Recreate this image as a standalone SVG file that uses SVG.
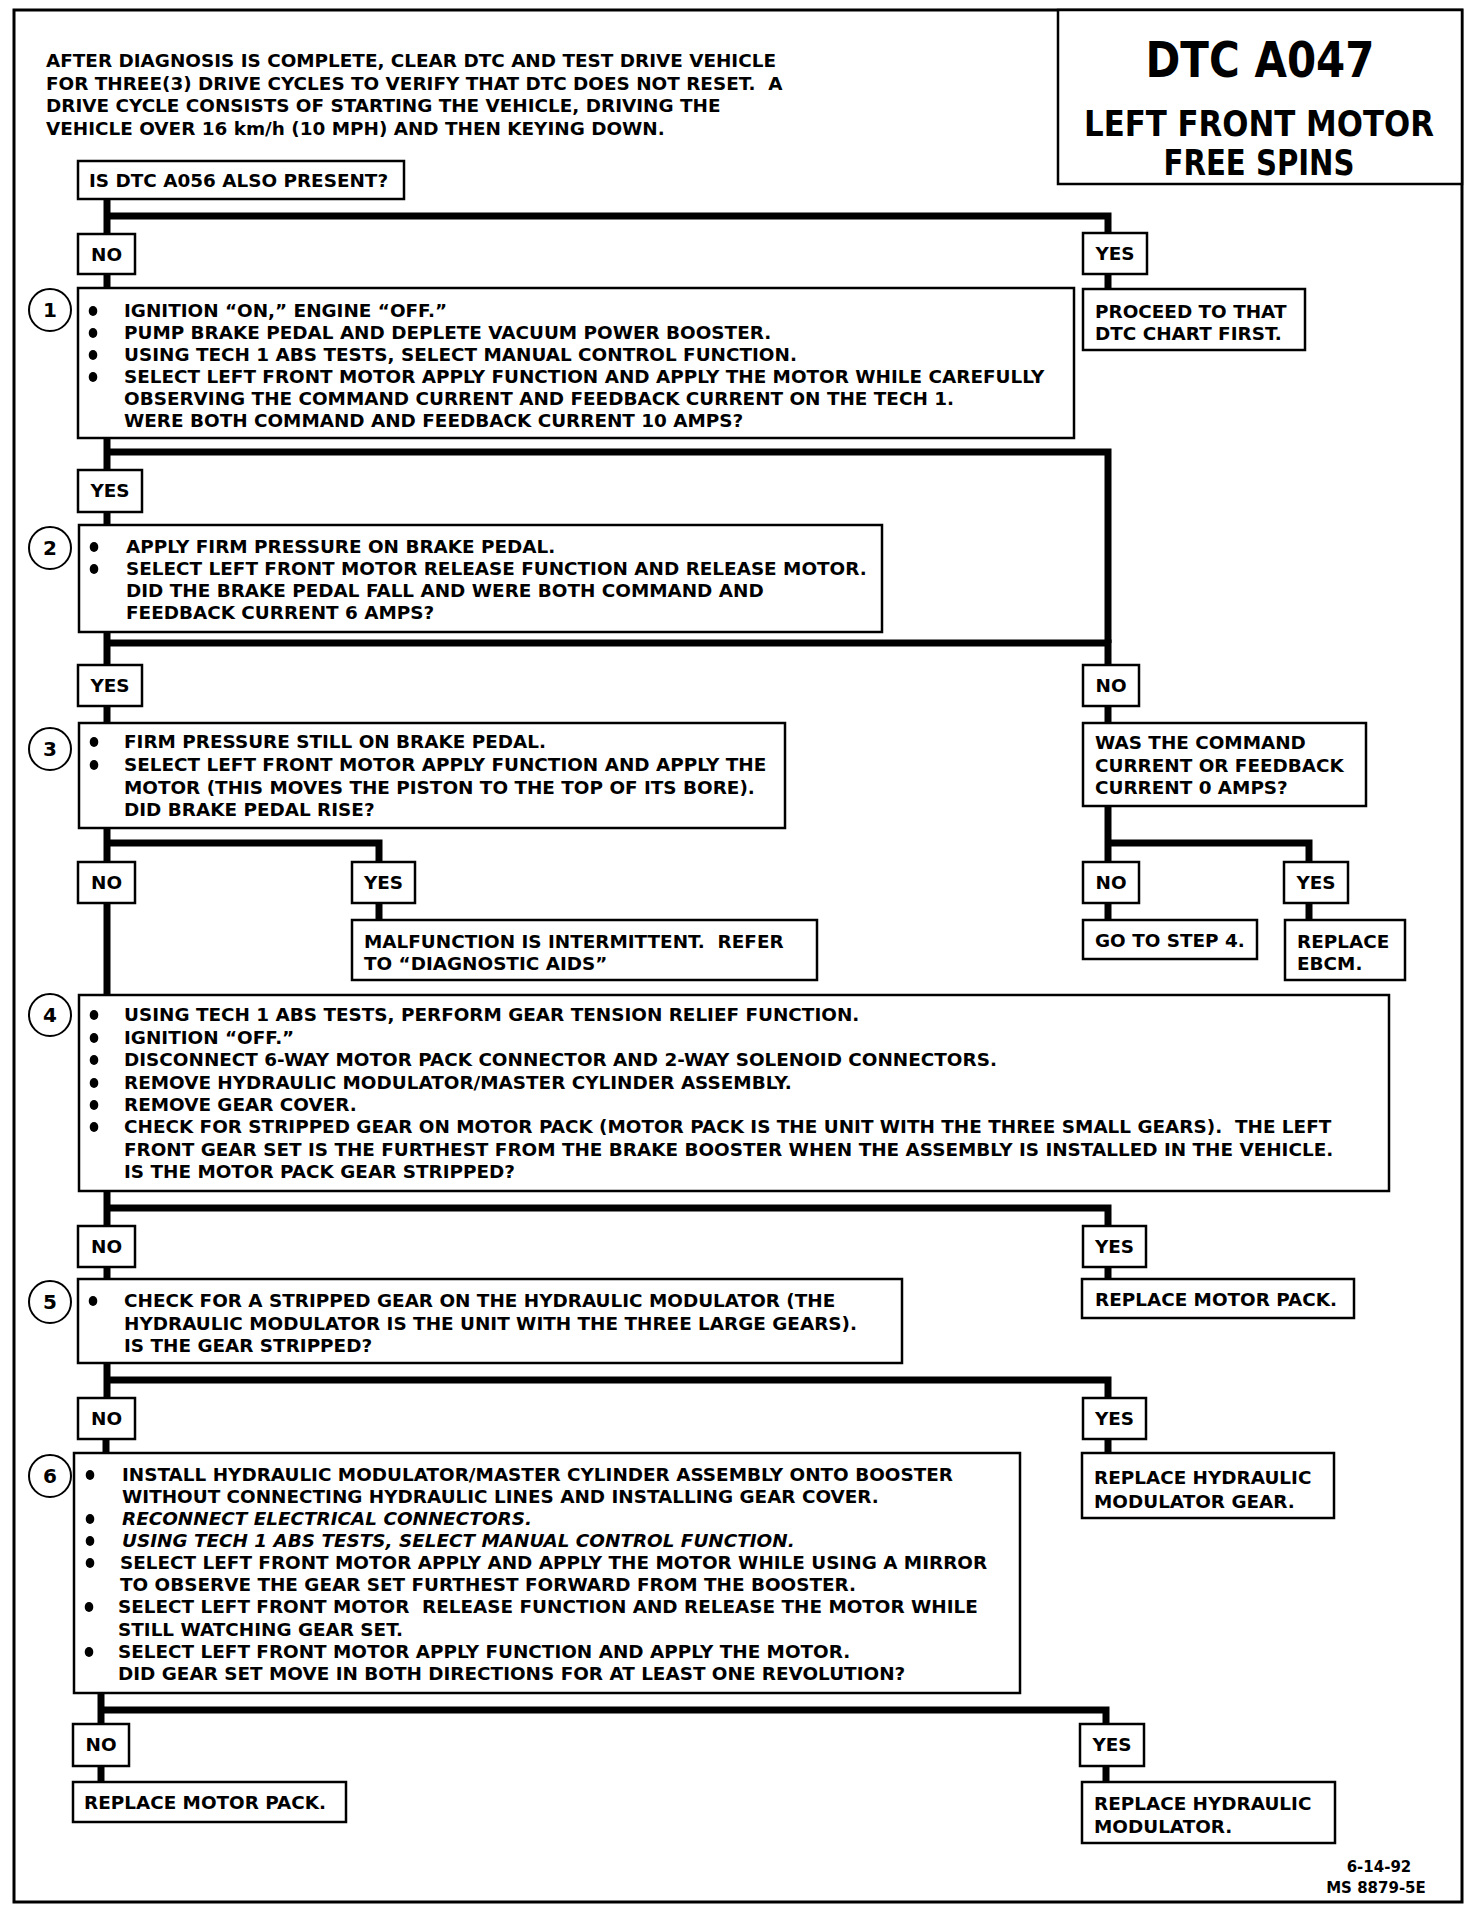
<svg xmlns="http://www.w3.org/2000/svg" width="1472" height="1910" viewBox="0 0 1472 1910">
<style>
.bg{fill:#fff}
.frame{fill:none;stroke:#000;stroke-width:3}
.b{fill:#fff;stroke:#000;stroke-width:2.5}
.cir{fill:#fff;stroke:#000;stroke-width:2}
.t{font-family:"DejaVu Sans","Liberation Sans",sans-serif;font-weight:bold;font-size:18.4px;fill:#000;white-space:pre}
.it{font-style:italic}
.m{text-anchor:middle}
.ttl{font-family:"DejaVu Sans","Liberation Sans",sans-serif;font-weight:bold;fill:#000;text-anchor:middle}
.ttc{font-family:"DejaVu Sans Condensed","Liberation Sans",sans-serif;font-weight:bold;fill:#000;text-anchor:middle}
.n{font-family:"DejaVu Sans",sans-serif;font-weight:bold;font-size:20px;text-anchor:middle;fill:#000}
.c{fill:none;stroke:#000;stroke-width:7;stroke-linejoin:miter;stroke-linecap:butt}
.dot{fill:#000}
.ft{font-family:"DejaVu Sans",sans-serif;font-weight:bold;font-size:15px;text-anchor:middle;fill:#000}
</style>
<rect class="bg" x="0" y="0" width="1472" height="1910"/>
<rect class="frame" x="14" y="10" width="1448" height="1892"/>

<g id="title">
<rect class="b" x="1058" y="10" width="404" height="174"/>
<text class="ttl" x="1260" y="77" font-size="49" textLength="229" lengthAdjust="spacingAndGlyphs">DTC A047</text>
<text class="ttc" x="1259" y="136" font-size="36" textLength="350" lengthAdjust="spacingAndGlyphs">LEFT FRONT MOTOR</text>
<text class="ttc" x="1259" y="175" font-size="36" textLength="191" lengthAdjust="spacingAndGlyphs">FREE SPINS</text>
</g>

<g id="intro">
<text class="t" x="46" y="67">AFTER DIAGNOSIS IS COMPLETE, CLEAR DTC AND TEST DRIVE VEHICLE</text>
<text class="t" x="46" y="89.5">FOR THREE(3) DRIVE CYCLES TO VERIFY THAT DTC DOES NOT RESET.  A</text>
<text class="t" x="46" y="112">DRIVE CYCLE CONSISTS OF STARTING THE VEHICLE, DRIVING THE</text>
<text class="t" x="46" y="134.5">VEHICLE OVER 16 km/h (10 MPH) AND THEN KEYING DOWN.</text>
</g>

<g id="connectors">
<path class="c" d="M107 199 V234"/>
<path class="c" d="M107 216 H1108 V233"/>
<path class="c" d="M107 274 V288"/>
<path class="c" d="M1108 274 V289"/>
<path class="c" d="M107 438 V470"/>
<path class="c" d="M107 452 H1108 V643"/>
<path class="c" d="M107 512 V525"/>
<path class="c" d="M107 632 V665"/>
<path class="c" d="M107 643 H1108 V665"/>
<path class="c" d="M107 706 V723"/>
<path class="c" d="M1108 706 V723"/>
<path class="c" d="M107 828 V862"/>
<path class="c" d="M107 843 H379 V862"/>
<path class="c" d="M379 903 V920"/>
<path class="c" d="M107 903 V995"/>
<path class="c" d="M1108 806 V862"/>
<path class="c" d="M1108 843 H1309 V862"/>
<path class="c" d="M1108 903 V920"/>
<path class="c" d="M1309 903 V920"/>
<path class="c" d="M107 1191 V1226"/>
<path class="c" d="M107 1208 H1108 V1226"/>
<path class="c" d="M107 1267 V1279"/>
<path class="c" d="M1108 1267 V1279"/>
<path class="c" d="M107 1363 V1398"/>
<path class="c" d="M107 1380 H1108 V1398"/>
<path class="c" d="M106 1439 V1453"/>
<path class="c" d="M1108 1439 V1453"/>
<path class="c" d="M101 1693 V1724"/>
<path class="c" d="M101 1710 H1106 V1724"/>
<path class="c" d="M101 1766 V1782"/>
<path class="c" d="M1106 1766 V1782"/>
</g>

<g id="q0">
<rect class="b" x="78" y="161" width="326" height="38"/>
<text class="t" x="89" y="187">IS DTC A056 ALSO PRESENT?</text>
</g>
<g id="no1"><rect class="b" x="78" y="234" width="57" height="40"/><text class="t m" x="106.5" y="261">NO</text></g>
<g id="yes1"><rect class="b" x="1083" y="233" width="64" height="41"/><text class="t m" x="1115" y="260">YES</text></g>
<g id="proceed">
<rect class="b" x="1083" y="289" width="222" height="61"/>
<text class="t" x="1095" y="318">PROCEED TO THAT</text>
<text class="t" x="1095" y="340">DTC CHART FIRST.</text>
</g>

<g id="step1">
<circle class="cir" cx="50" cy="310" r="21"/><text class="n" x="50" y="317">1</text>
<rect class="b" x="78" y="288" width="996" height="150"/>
<ellipse class="dot" cx="93" cy="311" rx="4.3" ry="5"/>
<ellipse class="dot" cx="93" cy="333" rx="4.3" ry="5"/>
<ellipse class="dot" cx="93" cy="355" rx="4.3" ry="5"/>
<ellipse class="dot" cx="93" cy="377" rx="4.3" ry="5"/>
<text class="t" x="124" y="317">IGNITION “ON,” ENGINE “OFF.”</text>
<text class="t" x="124" y="339">PUMP BRAKE PEDAL AND DEPLETE VACUUM POWER BOOSTER.</text>
<text class="t" x="124" y="361">USING TECH 1 ABS TESTS, SELECT MANUAL CONTROL FUNCTION.</text>
<text class="t" x="124" y="383">SELECT LEFT FRONT MOTOR APPLY FUNCTION AND APPLY THE MOTOR WHILE CAREFULLY</text>
<text class="t" x="124" y="405">OBSERVING THE COMMAND CURRENT AND FEEDBACK CURRENT ON THE TECH 1.</text>
<text class="t" x="124" y="427">WERE BOTH COMMAND AND FEEDBACK CURRENT 10 AMPS?</text>
</g>

<g id="yes2"><rect class="b" x="78" y="470" width="64" height="42"/><text class="t m" x="110" y="497">YES</text></g>

<g id="step2">
<circle class="cir" cx="50" cy="548" r="21"/><text class="n" x="50" y="555">2</text>
<rect class="b" x="79" y="525" width="803" height="107"/>
<ellipse class="dot" cx="94" cy="547" rx="4.3" ry="5"/>
<ellipse class="dot" cx="94" cy="569" rx="4.3" ry="5"/>
<text class="t" x="126" y="553">APPLY FIRM PRESSURE ON BRAKE PEDAL.</text>
<text class="t" x="126" y="575">SELECT LEFT FRONT MOTOR RELEASE FUNCTION AND RELEASE MOTOR.</text>
<text class="t" x="126" y="597">DID THE BRAKE PEDAL FALL AND WERE BOTH COMMAND AND</text>
<text class="t" x="126" y="619">FEEDBACK CURRENT 6 AMPS?</text>
</g>

<g id="yes3"><rect class="b" x="78" y="665" width="64" height="41"/><text class="t m" x="110" y="692">YES</text></g>
<g id="no3"><rect class="b" x="1083" y="665" width="56" height="41"/><text class="t m" x="1111" y="692">NO</text></g>

<g id="step3">
<circle class="cir" cx="50" cy="749" r="21"/><text class="n" x="50" y="756">3</text>
<rect class="b" x="79" y="723" width="706" height="105"/>
<ellipse class="dot" cx="94" cy="742" rx="4.3" ry="5"/>
<ellipse class="dot" cx="94" cy="765" rx="4.3" ry="5"/>
<text class="t" x="124" y="748">FIRM PRESSURE STILL ON BRAKE PEDAL.</text>
<text class="t" x="124" y="771">SELECT LEFT FRONT MOTOR APPLY FUNCTION AND APPLY THE</text>
<text class="t" x="124" y="794">MOTOR (THIS MOVES THE PISTON TO THE TOP OF ITS BORE).</text>
<text class="t" x="124" y="816">DID BRAKE PEDAL RISE?</text>
</g>

<g id="was">
<rect class="b" x="1083" y="723" width="283" height="83"/>
<text class="t" x="1095" y="749">WAS THE COMMAND</text>
<text class="t" x="1095" y="771.5">CURRENT OR FEEDBACK</text>
<text class="t" x="1095" y="794">CURRENT 0 AMPS?</text>
</g>

<g id="no4"><rect class="b" x="78" y="862" width="57" height="41"/><text class="t m" x="106.5" y="889">NO</text></g>
<g id="yes4"><rect class="b" x="352" y="862" width="63" height="41"/><text class="t m" x="383.5" y="889">YES</text></g>
<g id="malfunction">
<rect class="b" x="352" y="920" width="465" height="60"/>
<text class="t" x="364" y="948">MALFUNCTION IS INTERMITTENT.  REFER</text>
<text class="t" x="364" y="970">TO “DIAGNOSTIC AIDS”</text>
</g>
<g id="no5"><rect class="b" x="1083" y="862" width="56" height="41"/><text class="t m" x="1111" y="889">NO</text></g>
<g id="yes5"><rect class="b" x="1284" y="862" width="64" height="41"/><text class="t m" x="1316" y="889">YES</text></g>
<g id="goto4">
<rect class="b" x="1083" y="920" width="174" height="39"/>
<text class="t" x="1095" y="947">GO TO STEP 4.</text>
</g>
<g id="ebcm">
<rect class="b" x="1285" y="920" width="120" height="60"/>
<text class="t" x="1297" y="948">REPLACE</text>
<text class="t" x="1297" y="970">EBCM.</text>
</g>

<g id="step4">
<circle class="cir" cx="50" cy="1015" r="21"/><text class="n" x="50" y="1022">4</text>
<rect class="b" x="79" y="995" width="1310" height="196"/>
<ellipse class="dot" cx="94" cy="1015" rx="4.3" ry="5"/>
<ellipse class="dot" cx="94" cy="1038" rx="4.3" ry="5"/>
<ellipse class="dot" cx="94" cy="1060" rx="4.3" ry="5"/>
<ellipse class="dot" cx="94" cy="1083" rx="4.3" ry="5"/>
<ellipse class="dot" cx="94" cy="1105" rx="4.3" ry="5"/>
<ellipse class="dot" cx="94" cy="1127" rx="4.3" ry="5"/>
<text class="t" x="124" y="1021">USING TECH 1 ABS TESTS, PERFORM GEAR TENSION RELIEF FUNCTION.</text>
<text class="t" x="124" y="1044">IGNITION “OFF.”</text>
<text class="t" x="124" y="1066">DISCONNECT 6-WAY MOTOR PACK CONNECTOR AND 2-WAY SOLENOID CONNECTORS.</text>
<text class="t" x="124" y="1089">REMOVE HYDRAULIC MODULATOR/MASTER CYLINDER ASSEMBLY.</text>
<text class="t" x="124" y="1111">REMOVE GEAR COVER.</text>
<text class="t" x="124" y="1133">CHECK FOR STRIPPED GEAR ON MOTOR PACK (MOTOR PACK IS THE UNIT WITH THE THREE SMALL GEARS).  THE LEFT</text>
<text class="t" x="124" y="1156">FRONT GEAR SET IS THE FURTHEST FROM THE BRAKE BOOSTER WHEN THE ASSEMBLY IS INSTALLED IN THE VEHICLE.</text>
<text class="t" x="124" y="1178">IS THE MOTOR PACK GEAR STRIPPED?</text>
</g>

<g id="no6"><rect class="b" x="78" y="1226" width="57" height="41"/><text class="t m" x="106.5" y="1253">NO</text></g>
<g id="yes6"><rect class="b" x="1083" y="1226" width="63" height="41"/><text class="t m" x="1114.5" y="1253">YES</text></g>
<g id="replace-motor-pack-1">
<rect class="b" x="1082" y="1279" width="272" height="39"/>
<text class="t" x="1095" y="1306">REPLACE MOTOR PACK.</text>
</g>

<g id="step5">
<circle class="cir" cx="50" cy="1302" r="21"/><text class="n" x="50" y="1309">5</text>
<rect class="b" x="78" y="1279" width="824" height="84"/>
<ellipse class="dot" cx="93" cy="1301" rx="4.3" ry="5"/>
<text class="t" x="124" y="1307">CHECK FOR A STRIPPED GEAR ON THE HYDRAULIC MODULATOR (THE</text>
<text class="t" x="124" y="1330">HYDRAULIC MODULATOR IS THE UNIT WITH THE THREE LARGE GEARS).</text>
<text class="t" x="124" y="1352">IS THE GEAR STRIPPED?</text>
</g>

<g id="no7"><rect class="b" x="78" y="1398" width="57" height="41"/><text class="t m" x="106.5" y="1425">NO</text></g>
<g id="yes7"><rect class="b" x="1083" y="1398" width="63" height="41"/><text class="t m" x="1114.5" y="1425">YES</text></g>
<g id="replace-hyd-gear">
<rect class="b" x="1082" y="1453" width="252" height="65"/>
<text class="t" x="1094" y="1484">REPLACE HYDRAULIC</text>
<text class="t" x="1094" y="1508">MODULATOR GEAR.</text>
</g>

<g id="step6">
<circle class="cir" cx="50" cy="1476" r="21"/><text class="n" x="50" y="1483">6</text>
<rect class="b" x="74" y="1453" width="946" height="240"/>
<ellipse class="dot" cx="90" cy="1475" rx="4.3" ry="5"/>
<ellipse class="dot" cx="90" cy="1519" rx="4.3" ry="5"/>
<ellipse class="dot" cx="90" cy="1541" rx="4.3" ry="5"/>
<ellipse class="dot" cx="90" cy="1563" rx="4.3" ry="5"/>
<ellipse class="dot" cx="89" cy="1607" rx="4.3" ry="5"/>
<ellipse class="dot" cx="89" cy="1652" rx="4.3" ry="5"/>
<text class="t" x="122" y="1481">INSTALL HYDRAULIC MODULATOR/MASTER CYLINDER ASSEMBLY ONTO BOOSTER</text>
<text class="t" x="122" y="1503">WITHOUT CONNECTING HYDRAULIC LINES AND INSTALLING GEAR COVER.</text>
<text class="t it" x="122" y="1525">RECONNECT ELECTRICAL CONNECTORS.</text>
<text class="t it" x="122" y="1547">USING TECH 1 ABS TESTS, SELECT MANUAL CONTROL FUNCTION.</text>
<text class="t" x="120" y="1569">SELECT LEFT FRONT MOTOR APPLY AND APPLY THE MOTOR WHILE USING A MIRROR</text>
<text class="t" x="120" y="1591">TO OBSERVE THE GEAR SET FURTHEST FORWARD FROM THE BOOSTER.</text>
<text class="t" x="118" y="1613">SELECT LEFT FRONT MOTOR  RELEASE FUNCTION AND RELEASE THE MOTOR WHILE</text>
<text class="t" x="118" y="1636">STILL WATCHING GEAR SET.</text>
<text class="t" x="118" y="1658">SELECT LEFT FRONT MOTOR APPLY FUNCTION AND APPLY THE MOTOR.</text>
<text class="t" x="118" y="1680">DID GEAR SET MOVE IN BOTH DIRECTIONS FOR AT LEAST ONE REVOLUTION?</text>
</g>

<g id="no8"><rect class="b" x="73" y="1724" width="56" height="42"/><text class="t m" x="101" y="1751">NO</text></g>
<g id="yes8"><rect class="b" x="1080" y="1724" width="64" height="42"/><text class="t m" x="1112" y="1751">YES</text></g>
<g id="replace-motor-pack-2">
<rect class="b" x="73" y="1782" width="273" height="40"/>
<text class="t" x="84" y="1809">REPLACE MOTOR PACK.</text>
</g>
<g id="replace-hyd-mod">
<rect class="b" x="1082" y="1782" width="253" height="61"/>
<text class="t" x="1094" y="1810">REPLACE HYDRAULIC</text>
<text class="t" x="1094" y="1833">MODULATOR.</text>
</g>

<g id="footer">
<text class="ft" x="1379" y="1872">6-14-92</text>
<text class="ft" x="1376" y="1893">MS 8879-5E</text>
</g>
</svg>
